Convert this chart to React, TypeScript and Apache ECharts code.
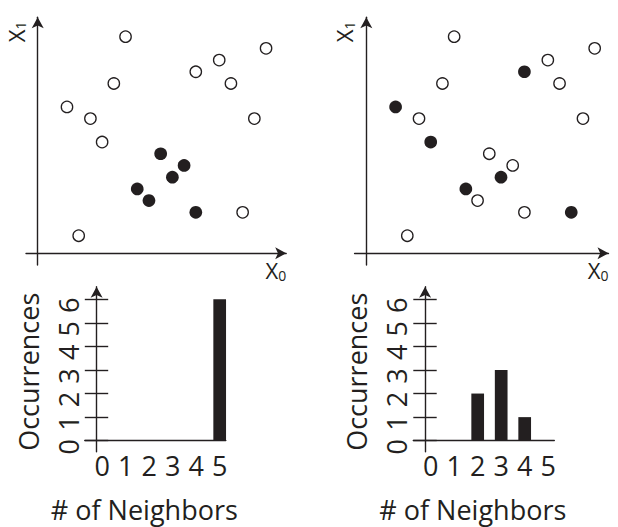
import React, { useEffect, useRef } from 'react';
import * as echarts from 'echarts';

// ---- data ----
// 18 sample points (same positions in both scatter plots), in axis units
const pointX = [7.5, 19.5, 15.5, 13.5, 6.5, 16.5, 2.5, 4.5, 18.5, 5.5, 17.5, 3.5, 10.5, 12.5, 11.5, 8.5, 9.5, 13.5];
const pointY = [18.5, 17.5, 16.5, 15.5, 14.5, 14.5, 12.5, 11.5, 11.5, 9.5, 3.5, 1.5, 8.5, 7.5, 6.5, 5.5, 4.5, 3.5];
// 1 = filled (highlighted) point
const filledLeft = [0, 0, 0, 0, 0, 0, 0, 0, 0, 0, 0, 0, 1, 1, 1, 1, 1, 1];
const filledRight = [0, 0, 0, 1, 0, 0, 1, 0, 0, 1, 1, 0, 0, 0, 1, 1, 0, 0];

const neighborCategories = [0, 1, 2, 3, 4, 5];
const countsLeft = [0, 0, 0, 0, 0, 6];
const countsRight = [0, 0, 2, 3, 1, 0];
const occurrenceTicks = [0, 1, 2, 3, 4, 5, 6];

const INK = '#231f20';
const FONT = 'Open Sans';

function pick(filled: number[], want: number) {
  const out: number[][] = [];
  for (let i = 0; i < pointX.length; i++) {
    if (filled[i] === want) out.push([pointX[i], pointY[i]]);
  }
  return out;
}

const arrowLine = {
  show: true,
  onZero: true,
  symbol: ['none', 'arrow'],
  symbolSize: [9, 11],
  lineStyle: { color: INK, width: 1.4 },
};

const subRich = {
  x: { fontSize: 22, fontFamily: FONT, color: INK, lineHeight: 24 },
  s: { fontSize: 14, fontFamily: FONT, color: INK, lineHeight: 16, verticalAlign: 'bottom' },
};

function scatterAxes(grid: number, xMax: number) {
  const x = {
    gridIndex: grid,
    type: 'value',
    min: -1,
    max: xMax,
    axisLine: arrowLine,
    axisTick: { show: false },
    axisLabel: { show: false },
    splitLine: { show: false },
    name: '{x|X}{s|0}',
    nameLocation: 'end',
    nameGap: 0,
    nameTextStyle: { align: 'right', verticalAlign: 'top', padding: [5, 0, 0, 0], rich: subRich },
  };
  const y = {
    gridIndex: grid,
    type: 'value',
    min: -1,
    max: 20.16,
    axisLine: arrowLine,
    axisTick: { show: false },
    axisLabel: { show: false },
    splitLine: { show: false },
    name: '{x|X}{s|1}',
    nameLocation: 'end',
    nameRotate: 90,
    nameGap: -25,
    nameTextStyle: { align: 'left', verticalAlign: 'bottom', padding: [0, 0, 10, 0], rich: subRich },
  };
  return { x, y };
}

function barAxes(grid: number) {
  const x = {
    gridIndex: grid,
    type: 'value',
    min: -0.74,
    max: 5.26,
    axisLine: { show: true, onZero: true, lineStyle: { color: INK, width: 1.4 } },
    axisTick: { show: false },
    splitLine: { show: false },
    axisLabel: {
      customValues: neighborCategories,
      fontSize: 27,
      fontFamily: FONT,
      color: INK,
      margin: 0,
    },
    name: '# of Neighbors',
    nameLocation: 'middle',
    nameGap: 44,
    nameTextStyle: { fontSize: 27, fontFamily: FONT, color: INK, padding: [0, 22, 0, 0] },
  };
  const yTicks = {
    gridIndex: grid,
    type: 'value',
    position: 'left',
    min: -0.47,
    max: 6.53,
    axisLine: { show: false, onZero: false },
    axisTick: {
      show: true,
      inside: true,
      length: 23.4,
      customValues: occurrenceTicks,
      lineStyle: { color: INK, width: 1.4 },
    },
    axisLabel: {
      customValues: occurrenceTicks,
      rotate: 90,
      margin: 3,
      fontSize: 27,
      fontFamily: FONT,
      color: INK,
      padding: [0, 12, 0, 0],
    },
    splitLine: { show: false },
    name: 'Occurrences',
    nameLocation: 'middle',
    nameRotate: 90,
    nameGap: 43,
    nameTextStyle: { fontSize: 27, fontFamily: FONT, color: INK, padding: [0, 5, 0, 0] },
  };
  const yLine = {
    gridIndex: grid,
    type: 'value',
    position: 'left',
    offset: -11.8,
    min: -0.47,
    max: 6.53,
    axisLine: { ...arrowLine, onZero: false },
    axisTick: { show: false },
    axisLabel: { show: false },
    splitLine: { show: false },
  };
  return { x, yTicks, yLine };
}

export default function App() {
  const ref = useRef<HTMLDivElement>(null);

  useEffect(() => {
    if (!ref.current) return;
    const chart = echarts.init(ref.current, undefined, { renderer: 'svg' });

    const sL = scatterAxes(0, 21.22);
    const sR = scatterAxes(1, 20.68);
    const bL = barAxes(2);
    const bR = barAxes(3);

    const openStyle = { color: '#ffffff', borderColor: INK, borderWidth: 1.3, opacity: 1 };
    const fillStyle = { color: INK, opacity: 1 };

    const option: any = {
      animation: false,
      backgroundColor: '#ffffff',
      textStyle: { fontFamily: FONT },
      grid: [
        { left: 26, top: 17.2, width: 260.2, height: 247.8, outerBoundsMode: 'none' },
        { left: 354.6, top: 17.2, width: 253.9, height: 247.8, outerBoundsMode: 'none' },
        { left: 84.8, top: 286.7, width: 141, height: 165.1, outerBoundsMode: 'none' },
        { left: 413.3, top: 286.7, width: 141, height: 165.1, outerBoundsMode: 'none' },
      ],
      xAxis: [sL.x, sR.x, bL.x, bR.x],
      yAxis: [sL.y, sR.y, bL.yTicks, bL.yLine, bR.yTicks, bR.yLine],
      series: [
        { type: 'scatter', xAxisIndex: 0, yAxisIndex: 0, symbol: 'circle', symbolSize: 11.4, itemStyle: openStyle, data: pick(filledLeft, 0) },
        { type: 'scatter', xAxisIndex: 0, yAxisIndex: 0, symbol: 'circle', symbolSize: 12.7, itemStyle: fillStyle, data: pick(filledLeft, 1) },
        { type: 'scatter', xAxisIndex: 1, yAxisIndex: 1, symbol: 'circle', symbolSize: 11.4, itemStyle: openStyle, data: pick(filledRight, 0) },
        { type: 'scatter', xAxisIndex: 1, yAxisIndex: 1, symbol: 'circle', symbolSize: 12.7, itemStyle: fillStyle, data: pick(filledRight, 1) },
        {
          type: 'bar', xAxisIndex: 2, yAxisIndex: 2, barWidth: 12.7, itemStyle: { color: INK },
          data: neighborCategories.map((c, i) => [c, countsLeft[i]]),
        },
        {
          type: 'bar', xAxisIndex: 3, yAxisIndex: 4, barWidth: 12.7, itemStyle: { color: INK },
          data: neighborCategories.map((c, i) => [c, countsRight[i]]),
        },
      ],
    };

    chart.setOption(option);
    return () => chart.dispose();
  }, []);

  return (
    <div
      ref={ref}
      style={{ position: 'absolute', left: 0, top: 0, width: 618, height: 527, background: '#fff' }}
    />
  );
}
